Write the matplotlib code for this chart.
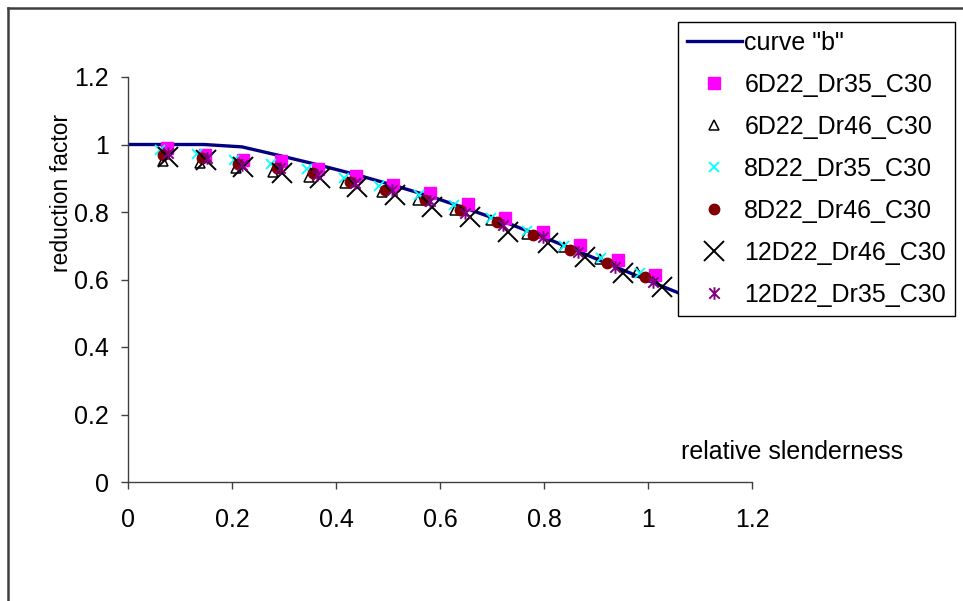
import matplotlib
matplotlib.use("Agg")
import matplotlib.pyplot as plt
from matplotlib.lines import Line2D
from matplotlib.path import Path

plt.rcParams['font.family'] = ['Liberation Sans', 'DejaVu Sans']

# ---- data ----
curve_x = [0.0, 0.073, 0.146, 0.219, 0.292, 0.365, 0.438, 0.511, 0.584, 0.657,
           0.730, 0.803, 0.876, 0.949, 1.022, 1.095, 1.168]
curve_y = [1.0, 1.0, 1.0, 0.993, 0.967, 0.940, 0.911, 0.879, 0.845, 0.807,
           0.767, 0.723, 0.677, 0.630, 0.583, 0.538, 0.496]

s1_x = [0.075, 0.148, 0.221, 0.294, 0.365, 0.438, 0.510, 0.581, 0.654, 0.725,
        0.798, 0.869, 0.942, 1.013]
s1_y = [0.990, 0.969, 0.955, 0.950, 0.928, 0.908, 0.880, 0.856, 0.825, 0.782,
        0.741, 0.702, 0.658, 0.613]

s2_x = [0.068, 0.138, 0.208, 0.278, 0.348, 0.418, 0.488, 0.558, 0.628, 0.698,
        0.768, 0.838, 0.908, 0.978]
s2_y = [0.952, 0.945, 0.930, 0.920, 0.905, 0.885, 0.860, 0.835, 0.805, 0.775,
        0.735, 0.695, 0.660, 0.622]

s3_x = [0.062, 0.133, 0.203, 0.275, 0.344, 0.415, 0.483, 0.560, 0.627, 0.698,
        0.767, 0.838, 0.909, 0.985]
s3_y = [0.985, 0.972, 0.955, 0.943, 0.928, 0.902, 0.878, 0.850, 0.820, 0.783,
        0.745, 0.700, 0.663, 0.619]

s4_x = [0.067, 0.142, 0.212, 0.287, 0.356, 0.427, 0.494, 0.571, 0.638, 0.710,
        0.779, 0.850, 0.921, 0.994]
s4_y = [0.969, 0.960, 0.942, 0.930, 0.915, 0.889, 0.865, 0.836, 0.806, 0.770,
        0.732, 0.687, 0.649, 0.607]

s5_x = [0.077, 0.150, 0.221, 0.296, 0.369, 0.440, 0.513, 0.585, 0.658, 0.731,
        0.808, 0.879, 0.952, 1.027]
s5_y = [0.963, 0.954, 0.933, 0.915, 0.900, 0.874, 0.850, 0.815, 0.785, 0.741,
        0.708, 0.667, 0.619, 0.578]

s6_x = [0.077, 0.152, 0.219, 0.292, 0.363, 0.436, 0.508, 0.581, 0.648, 0.721,
        0.798, 0.865, 0.937, 1.010]
s6_y = [0.975, 0.960, 0.939, 0.930, 0.910, 0.886, 0.865, 0.833, 0.797, 0.762,
        0.726, 0.681, 0.636, 0.593]

labels = ['curve "b"', '6D22_Dr35_C30', '6D22_Dr46_C30', '8D22_Dr35_C30',
          '8D22_Dr46_C30', '12D22_Dr46_C30', '12D22_Dr35_C30']
ticks = [0, 0.2, 0.4, 0.6, 0.8, 1.0, 1.2]
tick_labels = ['0', '0.2', '0.4', '0.6', '0.8', '1', '1.2']

# ---- figure ----
W, H = 963, 601
fig = plt.figure(figsize=(W / 100, H / 100), dpi=100)
fig.patch.set_facecolor('white')

def fx(px):
    return px / W

def fy(py):
    return 1 - py / H

ax = fig.add_axes([fx(128), fy(482), fx(752) - fx(128), fy(77) - fy(482)])
ax.set_xlim(0, 1.2)
ax.set_ylim(0, 1.2)
for s in ['top', 'right']:
    ax.spines[s].set_visible(False)
for s in ['left', 'bottom']:
    ax.spines[s].set_color('#404040')
    ax.spines[s].set_linewidth(1.0)

FS = 18
ax.set_xticks(ticks)
ax.set_xticklabels(tick_labels)
ax.set_yticks(ticks)
ax.set_yticklabels(tick_labels)
ax.tick_params(axis='both', direction='out', length=5, width=1.0,
               colors='#404040', labelcolor='black', labelsize=FS)
ax.tick_params(axis='x', pad=14)
ax.tick_params(axis='y', pad=9)

star = Path([(-1, -1), (1, 1), (-1, 1), (1, -1), (0, -1.2), (0, 1.2)],
            [Path.MOVETO, Path.LINETO, Path.MOVETO, Path.LINETO, Path.MOVETO, Path.LINETO])

h0, = ax.plot(curve_x, curve_y, color='#000080', lw=2.4, zorder=2)
h1, = ax.plot(s1_x, s1_y, ls='none', marker='s', ms=8, color='#FF00FF', mec='#FF00FF', zorder=3)
h2, = ax.plot(s2_x, s2_y, ls='none', marker='^', ms=6.5, mfc='none', mec='black', mew=1.1, zorder=3)
h3, = ax.plot(s3_x, s3_y, ls='none', marker='x', ms=7, color='#00FFFF', mew=1.3, zorder=3)
h4, = ax.plot(s4_x, s4_y, ls='none', marker='o', ms=7.5, color='#800000', mec='#800000', zorder=4)
h5, = ax.plot(s5_x, s5_y, ls='none', marker='x', ms=14, color='black', mew=1.4, zorder=5)
h6, = ax.plot(s6_x, s6_y, ls='none', marker=star, ms=9, color='#800080', mew=1.4, zorder=6)

leg = ax.legend([h0, h1, h2, h3, h4, h5, h6], labels,
                loc='upper left', bbox_to_anchor=(fx(678), fy(22)),
                bbox_transform=fig.transFigure, borderaxespad=0,
                fontsize=FS, frameon=True, fancybox=False, framealpha=1,
                edgecolor='black', handlelength=2.2, handletextpad=0.1,
                labelspacing=0.72, borderpad=0.35)
leg.get_frame().set_linewidth(1.0)
leg.set_zorder(10)

fig.text(fx(681), fy(452), 'relative slenderness', fontsize=FS,
         ha='left', va='center')
fig.text(fx(62), fy(193), 'reduction factor', fontsize=16.5,
         rotation=90, ha='center', va='center')

# outer chart-area border (top and left only visible)
fig.add_artist(Line2D([fx(8), 1.0], [fy(8), fy(8)], color='#404040', lw=1.8,
                      transform=fig.transFigure))
fig.add_artist(Line2D([fx(8), fx(8)], [fy(8), 0.0], color='#404040', lw=1.8,
                      transform=fig.transFigure))

fig.savefig('out.png', dpi=100, facecolor='white')
